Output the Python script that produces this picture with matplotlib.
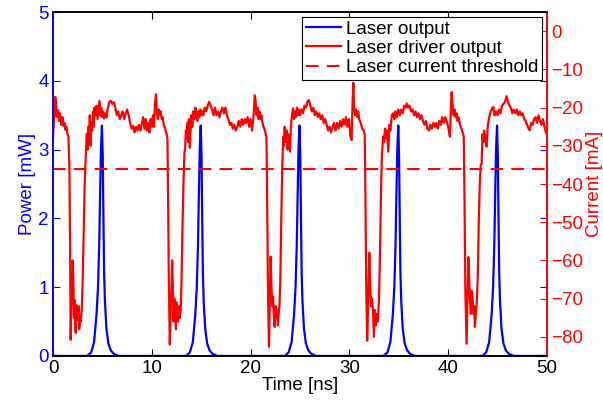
import numpy as np
import matplotlib
matplotlib.use('Agg')
import matplotlib.pyplot as plt

plt.rcParams['font.family'] = ['Liberation Sans', 'DejaVu Sans']
plt.rcParams['font.size'] = 13.5

# laser driver output (current, mA)
t_drv = [0.0, 0.08, 0.15, 0.22, 0.3, 0.38, 0.45, 0.52, 0.6, 0.68, 0.75, 0.85, 0.95, 1.05, 1.15, 1.25,
         1.35, 1.45, 1.55, 1.65, 1.72, 1.78, 1.86, 1.95, 2.0, 2.06, 2.12, 2.18, 2.24, 2.3, 2.36, 2.42,
         2.5, 2.58, 2.65, 2.72, 2.8, 2.9, 3.0, 3.1, 3.2, 3.3, 3.42, 3.5, 3.58, 3.65, 3.72, 3.8, 3.88,
         3.95, 4.05, 4.12, 4.2, 4.3, 4.4, 4.5, 4.6, 4.7, 4.78, 4.88, 4.95, 5.05, 5.15, 5.25, 5.4, 5.55,
         5.7, 5.85, 6.0, 6.15, 6.3, 6.45, 6.6, 6.75, 6.9, 7.05, 7.2, 7.35, 7.5, 7.65, 7.8, 7.95, 8.1,
         8.25, 8.4, 8.55, 8.7, 8.85, 9.0, 9.12, 9.25, 9.38, 9.5, 9.62, 9.75, 9.88, 10.0, 10.12, 10.22,
         10.32, 10.42, 10.5, 10.6, 10.7, 10.8, 10.9, 11.0, 11.1, 11.2, 11.35, 11.5, 11.58,
         11.65, 11.72, 11.82, 11.9, 11.98, 12.06, 12.12, 12.2, 12.28, 12.36, 12.44, 12.5, 12.58, 12.66,
         12.74, 12.82, 12.92, 13.0, 13.1, 13.2, 13.3, 13.38, 13.45, 13.52, 13.6, 13.68, 13.75, 13.85,
         13.92, 14.0, 14.1, 14.2, 14.3, 14.4, 14.5, 14.6, 14.7, 14.8, 14.9, 15.0, 15.1, 15.2, 15.35,
         15.5, 15.65, 15.8, 15.95, 16.1, 16.25, 16.4, 16.55, 16.7, 16.85, 17.0, 17.15, 17.3, 17.45,
         17.6, 17.75, 17.9, 18.05, 18.2, 18.35, 18.5, 18.65, 18.8, 18.95, 19.1, 19.25, 19.4, 19.55,
         19.7, 19.85, 20.0, 20.15, 20.3, 20.42, 20.5, 20.6, 20.7, 20.8, 20.9, 21.0, 21.1, 21.2, 21.3,
         21.45, 21.6,
         21.68, 21.76, 21.86, 21.95, 22.03, 22.1, 22.2, 22.28, 22.36, 22.44, 22.52, 22.6, 22.68, 22.76,
         22.84, 22.92, 23.0, 23.1, 23.2, 23.3, 23.38, 23.45, 23.55, 23.65, 23.75, 23.85, 23.99, 24.08,
         24.18, 24.3, 24.4, 24.5, 24.6, 24.7, 24.8, 24.9, 25.0, 25.15, 25.3, 25.45, 25.6, 25.75, 25.9,
         26.05, 26.2, 26.35, 26.5, 26.65, 26.8, 26.95, 27.1, 27.25, 27.4, 27.55, 27.7, 27.85, 28.0,
         28.15, 28.3, 28.45, 28.6, 28.75, 28.9, 29.05, 29.2, 29.35, 29.5, 29.65, 29.8, 29.95, 30.1,
         30.22, 30.32, 30.4, 30.48, 30.58, 30.68, 30.78, 30.9, 31.0, 31.15, 31.3, 31.45, 31.55,
         31.62, 31.7, 31.8, 31.9, 32.02, 32.1, 32.2, 32.3, 32.4, 32.49, 32.58, 32.68, 32.78, 32.88,
         33.0, 33.1, 33.2, 33.3, 33.43, 33.52, 33.6, 33.7, 33.8, 33.94, 34.05, 34.15, 34.3, 34.44,
         34.55, 34.65, 34.8, 34.95, 35.1, 35.25, 35.4, 35.55, 35.7, 35.8, 35.95, 36.1, 36.25, 36.4,
         36.55, 36.7, 36.85, 37.0, 37.15, 37.3, 37.45, 37.6, 37.75, 37.9, 38.05, 38.2, 38.35, 38.5,
         38.65, 38.8, 38.95, 39.1, 39.25, 39.4, 39.55, 39.7, 39.85, 40.0, 40.18, 40.28, 40.35, 40.45,
         40.55, 40.65, 40.75, 40.85, 40.95, 41.05, 41.2, 41.35, 41.5, 41.58,
         41.66, 41.74, 41.87, 41.96, 42.04, 42.12, 42.2, 42.3, 42.4, 42.48, 42.56, 42.64, 42.71, 42.8,
         42.9, 43.0, 43.1, 43.2, 43.3, 43.39, 43.48, 43.56, 43.65, 43.75, 43.89, 44.0, 44.12, 44.25,
         44.4, 44.57, 44.7, 44.85, 45.0, 45.15, 45.3, 45.45, 45.6, 45.75, 45.92, 46.05, 46.2, 46.35,
         46.5, 46.65, 46.8, 46.95, 47.1, 47.25, 47.4, 47.55, 47.7, 47.85, 48.0, 48.15, 48.27, 48.4,
         48.55, 48.7, 48.85, 49.0, 49.15, 49.3, 49.45, 49.6, 49.75, 49.9, 50.0]
i_drv = [-27.7, -24, -20.5, -17.2, -19, -22.4, -21, -20.7, -23.5, -21.5, -22.4, -24.5, -22.5, -24.8, -24, -25.8,
         -25, -26.8, -27.5, -35, -55, -80.8, -72, -65, -60, -66, -75, -70.4, -77, -79, -71.7, -74,
         -75.6, -72, -78, -74.7, -76, -73, -65, -52, -40, -33, -26.8, -31, -25, -29, -22, -30, -24,
         -26, -21, -25, -20, -22, -19.5, -23, -20.5, -18.2, -22, -20, -22.4, -21, -22.8, -21.5, -22.6, -20,
         -18.5, -18.2, -19, -18.6, -20, -22, -21, -23, -22, -21, -23, -21.5, -20.5, -22, -24, -25.5, -24.8,
         -26.5, -25, -26, -24.5, -26, -24, -22.5, -25.5, -23, -26, -24, -26.5, -23, -25, -22, -25,
         -19, -16.5, -21, -23, -20.5, -22, -21, -23, -22.5, -24.5, -25.5, -27, -28,
         -45, -65, -82, -74, -68, -60, -66, -76, -70, -72, -78, -71, -74, -76,
         -72, -75, -73, -66, -52, -40, -32, -30, -26, -28, -24, -29, -23, -30.5,
         -26, -22, -25, -21, -23, -20, -21, -23.5, -21, -22.5, -20.5, -22, -21, -22, -20,
         -21, -19.5, -18.5, -19.5, -20.5, -22, -20, -22, -21, -22.5, -21, -20, -21.5, -20,
         -22, -23, -24.5, -24, -25.5, -24.5, -26, -25, -23.5, -25, -23, -24.5, -23, -24,
         -22.5, -25, -23, -26, -22, -16.8, -18, -22, -20, -23, -21, -23, -22, -24, -25,
         -26, -27.5,
         -45, -68, -82.6, -70, -59, -66, -72, -69.5, -75, -77.4, -72, -75, -73, -77,
         -74, -72, -66, -50, -36, -27.6, -30, -25, -29, -26, -31, -27, -31.5, -25,
         -22, -20.2, -23, -21, -22.5, -20, -22, -20.5, -22, -20.5, -21.5, -19.5, -20, -18.5, -18,
         -19.5, -21, -20, -22, -21, -22.5, -21.5, -23, -22, -24, -23, -24.5, -26, -25,
         -26.5, -25, -24, -26, -24, -25.5, -23.5, -25, -23, -24.5, -22.5, -25, -23, -27.5,
         -28.5, -19, -13.5, -20, -22, -20.5, -22.5, -21, -23, -24, -25.5, -26, -27,
         -42, -65, -81, -72, -58, -66, -72, -70, -74, -80, -73, -77, -74, -76,
         -70, -58, -42, -32, -27.6, -29, -25.5, -28, -26, -31.5, -24.5, -26, -22, -21.5,
         -23, -21, -22.5, -20.5, -22, -20.5, -21.5, -19.5, -20, -18.9, -20, -19.5, -21, -20.5,
         -22, -21, -22.5, -21.5, -23, -22, -23.5, -24.5, -23.5, -25.5, -26, -24.5, -25.5, -24,
         -25, -24, -25.5, -23.5, -24.5, -22.5, -24, -22.5, -23.5, -25, -27.6, -20, -16, -19,
         -22, -20.5, -22.5, -21.5, -23.5, -22.5, -24.5, -25.5, -26.8, -27.5,
         -45, -68, -81.8, -70, -59.1, -64, -70, -74, -68, -70, -74, -72, -77.4, -74,
         -71, -64, -50, -40, -35, -34.6, -27, -29, -26, -28, -30.2, -25, -23, -21.5,
         -20.5, -19.8, -22, -21, -22, -20.5, -21.5, -19.5, -19, -18.5, -17, -18.5, -19.5, -20,
         -21.5, -20.5, -21.5, -20.5, -22, -21, -22, -21.5, -23, -23.5, -24.5, -25.5, -25.9, -24,
         -24.5, -23, -22.5, -24, -22, -23.5, -24.5, -23, -25, -26.5, -27]

threshold_ma = -36

# laser output pulses (mW): pulse centres and the pulse shape around each centre
pulse_centers = [4.95, 14.95, 24.95, 34.95, 44.95]
pulse_dt = [-1.5, -1.1, -0.8, -0.55, -0.4, -0.28, -0.18, -0.1, 0.0, 0.08, 0.15, 0.22, 0.3,
            0.45, 0.65, 0.9, 1.2, 1.7]
pulse_mw = [0.0, 0.05, 0.2, 0.6, 1.0, 1.6, 2.4, 3.0, 3.35, 2.9, 2.0, 1.2, 0.8,
            0.4, 0.18, 0.08, 0.03, 0.0]

t_las = [0.0]
p_las = [0.0]
for c in pulse_centers:
    t_las += [c + d for d in pulse_dt]
    p_las += pulse_mw
t_las.append(50.0)
p_las.append(0.0)

fig = plt.figure(figsize=(6.03, 4.04), dpi=100)
ax1 = fig.add_axes([0.088, 0.119, 0.819, 0.851])
ax2 = ax1.twinx()

l1, = ax1.plot(t_las, p_las, color='b', lw=1.6)
l2, = ax2.plot(t_drv, i_drv, color='r', lw=1.6)
l3 = ax2.axhline(threshold_ma, color='r', lw=1.5, ls=(0, (6, 4)))

ax1.set_xlim(0, 50)
ax1.set_ylim(0, 5)
ax2.set_ylim(-85, 5)
ax1.set_xticks(range(0, 51, 10))
ax1.set_yticks(range(0, 6))
ax2.set_yticks(range(-80, 1, 10))

ax1.tick_params(axis='x', direction='in', top=True, length=5, colors='k', pad=3)
ax1.tick_params(axis='y', direction='in', right=True, length=5, colors='b', pad=3)
ax2.tick_params(axis='y', direction='in', length=5, colors='r', pad=3)

for ax in (ax1, ax2):
    ax.spines['left'].set_color('b')
    ax.spines['right'].set_color('r')
    for s in ax.spines.values():
        s.set_linewidth(1.2)

ax1.set_xlabel('Time [ns]', labelpad=0)
ax1.set_ylabel('Power [mW]', color='b', labelpad=2)
ax2.set_ylabel('Current [mA]', color='r', labelpad=2)

leg = ax2.legend([l1, l2, l3], ['Laser output', 'Laser driver output', 'Laser current threshold'],
                 loc='upper right', fancybox=False, edgecolor='k', framealpha=1,
                 borderaxespad=0.25, handlelength=1.9, handletextpad=0.25,
                 labelspacing=0.12, borderpad=0.2)
leg.get_frame().set_linewidth(0.8)

fig.savefig('out.png', dpi=100)
